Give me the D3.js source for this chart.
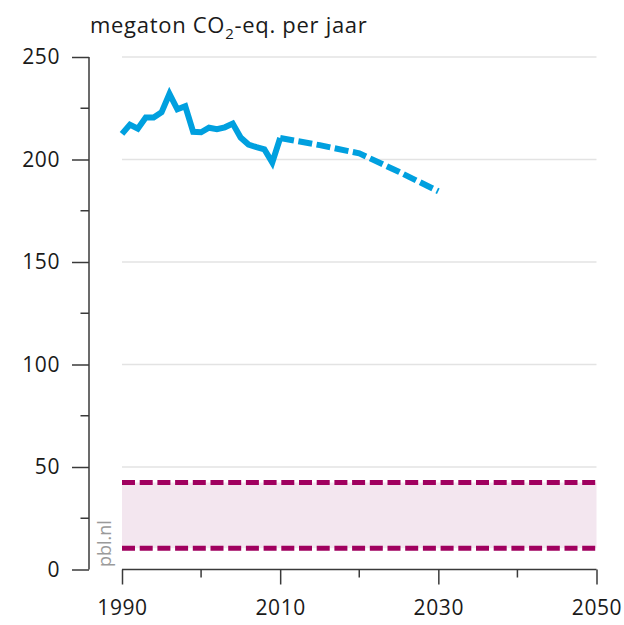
<!DOCTYPE html>
<html><head><meta charset="utf-8">
<script src="https://cdn.jsdelivr.net/npm/d3@7"></script>
<style>body{margin:0;background:#fff}svg{display:block}text{font-family:"Open Sans","Noto Sans",sans-serif}</style>
</head><body>
<script>
const histYears = [1990,1991,1992,1993,1994,1995,1996,1997,1998,1999,2000,2001,2002,2003,2004,2005,2006,2007,2008,2009,2010];
const histValues = [212.5,217,215,220.5,220.5,223,232,224.5,226,213.5,213.3,215.5,214.8,215.7,217.5,210.7,207.3,206,205,198.5,210.5];
const projYears = [2010,2015,2020,2025,2030];
const projValues = [210.5,207,203,194,184.5];
const bandYears = [1990,2050];
const bandLow = 10.4;
const bandHigh = 42.4;
const yTicks = [0,50,100,150,200,250];
const yMinor = [25,75,125,175,225];
const xTicks = [1990,2010,2030,2050];
const xMinor = [2000,2020,2040];
const title = "megaton CO";

const W=624,H=625;
const svg=d3.select("body").append("svg").attr("width",W).attr("height",H);
const x=d3.scaleLinear().domain([1990,2050]).range([122,596.5]);
const y=d3.scaleLinear().domain([0,250]).range([569.5,57]);
const axisCol="#3a3a3a";

// grid
svg.append("g").selectAll("line").data(yTicks.filter(d=>d>0)).join("line")
 .attr("x1",x(1990)).attr("x2",x(2050)).attr("y1",d=>y(d)).attr("y2",d=>y(d))
 .attr("stroke","#e3e3e3").attr("stroke-width",1.5);

// band
svg.append("rect").attr("x",x(bandYears[0])).attr("width",x(bandYears[1])-x(bandYears[0]))
 .attr("y",y(bandHigh)).attr("height",y(bandLow)-y(bandHigh)).attr("fill","#f3e6ef");
[bandLow,bandHigh].forEach(v=>{
 svg.append("line").attr("x1",x(bandYears[0])).attr("x2",x(bandYears[1])).attr("y1",y(v)).attr("y2",y(v))
  .attr("stroke","#a0005f").attr("stroke-width",5).attr("stroke-dasharray","13,4.7");
});

// y axis
const yAxis=d3.axisLeft(y).tickValues(yTicks).tickSize(17).tickPadding(12);
const gy=svg.append("g").attr("transform","translate(89,0)").call(yAxis);
gy.select(".domain").attr("d","M0,"+y(250)+"V"+y(0)).attr("stroke",axisCol).attr("stroke-width",1.5);
gy.selectAll(".tick line").attr("stroke",axisCol).attr("stroke-width",1.5);
gy.selectAll(".tick text").attr("font-size",21).attr("letter-spacing",0.6).attr("fill","#1a1a1a").attr("font-family","Open Sans, sans-serif");
gy.append("g").selectAll("line").data(yMinor).join("line")
 .attr("x1",-8.5).attr("x2",0).attr("y1",d=>y(d)).attr("y2",d=>y(d)).attr("stroke",axisCol).attr("stroke-width",1.5);

// x axis
const xAxis=d3.axisBottom(x).tickValues(xTicks).tickSize(15).tickPadding(16).tickFormat(d3.format("d"));
const gx=svg.append("g").attr("transform","translate(0,"+y(0)+")").call(xAxis);
gx.select(".domain").attr("d","M"+x(1990)+",0H"+x(2050)).attr("stroke",axisCol).attr("stroke-width",1.5);
gx.selectAll(".tick line").attr("stroke",axisCol).attr("stroke-width",1.5);
gx.selectAll(".tick text").attr("font-size",21).attr("letter-spacing",0.6).attr("fill","#1a1a1a").attr("font-family","Open Sans, sans-serif");
gx.append("g").selectAll("line").data(xMinor).join("line")
 .attr("x1",d=>x(d)).attr("x2",d=>x(d)).attr("y1",0).attr("y2",8).attr("stroke",axisCol).attr("stroke-width",1.5);

// lines
const line=d3.line().x(d=>x(d[0])).y(d=>y(d[1]));
svg.append("path").datum(histYears.map((d,i)=>[d,histValues[i]])).attr("d",line)
 .attr("fill","none").attr("stroke","#00a0df").attr("stroke-width",6).attr("stroke-linejoin","miter");
svg.append("path").datum(projYears.map((d,i)=>[d,projValues[i]])).attr("d",line)
 .attr("fill","none").attr("stroke","#00a0df").attr("stroke-width",6).attr("stroke-dasharray","14,4.5");

// title
const t=svg.append("text").attr("x",90).attr("y",33).attr("font-size",22).attr("letter-spacing",0.7).attr("fill","#1a1a1a");
t.append("tspan").text(title);
t.append("tspan").attr("font-size",15).attr("dy",6).text("2");
t.append("tspan").attr("dy",-6).text("-eq. per jaar");

// watermark
svg.append("text").attr("transform","translate(111,567) rotate(-90)").attr("font-size",18)
 .attr("fill","#9a9a9a").text("pbl.nl");
</script>
</body></html>
